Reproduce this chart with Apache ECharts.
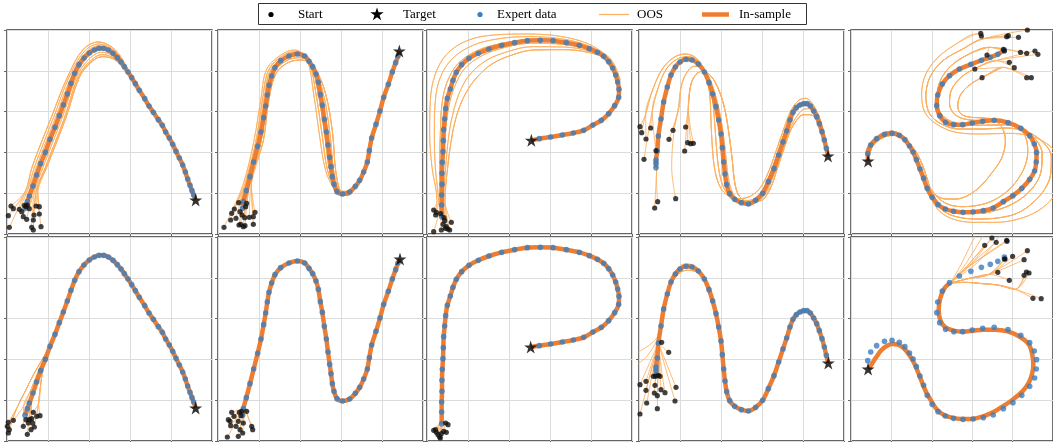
<!DOCTYPE html>
<html><head><meta charset="utf-8">
<script src="https://cdn.jsdelivr.net/npm/echarts@6/dist/echarts.min.js"></script>
<style>html,body{margin:0;padding:0;background:#fff}#c{width:1053px;height:442px}</style>
</head><body><div id="c"></div>
<script>
// Units: each panel spans x 0..615 and y 0..612 (the original has no tick labels).
// ---------- expert demonstrations (one shape per column, shared by both rows)
const expertArc = [[54,77],[61,97],[67,114],[78,144],[89,177],[101,211],[115,245],[129,284],[144,320],[157,355],[169,387],[181,420],[192,452],[203,482],[216,508],[231,528],[247,543],[262,552],[276,557],[290,557],[304,552],[318,542],[331,529],[342,516],[352,502],[363,486],[374,469],[385,451],[397,431],[413,406],[426,384],[439,365],[454,343],[466,326],[476,306],[487,288],[497,269],[507,248],[517,228],[527,207],[535,186],[542,165],[549,146],[555,130],[560,117]];
const expertN = [[74,77],[76,97],[85,130],[96,172],[107,216],[119,263],[129,306],[137,349],[143,384],[148,417],[153,446],[161,474],[171,499],[188,520],[213,534],[238,540],[260,534],[273,518],[284,502],[294,480],[301,455],[307,418],[313,386],[319,344],[325,306],[330,267],[335,230],[339,202],[343,172],[348,149],[357,127],[374,120],[395,126],[412,143],[425,161],[437,186],[448,216],[454,250],[461,288],[474,329],[486,369],[497,410],[511,449],[523,486],[533,514],[540,534]];
const expertP = [[44,52],[44,87],[44,117],[45,149],[45,182],[46,215],[48,247],[49,280],[50,313],[53,345],[56,376],[61,407],[70,435],[78,461],[88,485],[104,508],[126,527],[154,542],[186,555],[224,566],[263,574],[301,580],[340,581],[378,580],[418,574],[457,566],[487,556],[511,545],[530,533],[545,517],[557,498],[566,477],[572,456],[576,434],[575,410],[563,385],[545,361],[523,341],[498,327],[470,311],[439,303],[406,297],[371,291],[337,286]];
const expertWave = [[51,199],[51,212],[51,222],[55,249],[58,294],[66,345],[74,396],[85,441],[96,477],[109,501],[123,516],[141,524],[159,522],[178,510],[196,486],[210,454],[221,420],[231,382],[239,342],[246,300],[250,259],[254,216],[258,180],[263,148],[272,121],[287,104],[307,94],[328,90],[350,101],[371,122],[388,157],[405,196],[419,237],[432,276],[443,309],[453,342],[462,365],[472,379],[483,387],[494,391],[504,391],[514,384],[524,369],[533,352],[541,331],[549,307],[556,282],[562,257]];
const expertS = [[467,552],[447,539],[424,530],[397,521],[365,509],[330,495],[300,475],[278,450],[264,417],[261,385],[270,355],[288,335],[313,328],[340,328],[369,333],[401,338],[436,341],[478,334],[517,317],[544,295],[558,270],[565,244],[564,216],[559,189],[544,164],[520,137],[493,115],[464,97],[433,78],[403,70],[372,66],[341,65],[312,68],[287,75],[265,88],[247,110],[232,137],[221,167],[210,195],[199,223],[189,246],[178,264],[164,283],[147,296],[125,302],[102,299],[78,286],[60,267],[51,241]];

// ---------- targets
const targetsTop = [[566,102],[544,549],[313,281],[567,234],[52,219]];
const targetsBottom = [[566,99],[546,546],[311,282],[568,234],[52,216]];

// ---------- in-sample roll-out that differs from the demonstration (bottom row, column 5)
const insampleS2 = [[302,474],[285,459],[272,429],[267,394],[272,362],[287,341],[312,331],[342,328],[372,331],[402,334],[437,334],[477,329],[515,312],[542,289],[552,259],[555,229],[552,204],[542,176],[522,149],[492,124],[462,104],[432,86],[402,74],[367,66],[337,66],[307,70],[282,79],[262,94],[245,119],[229,146],[217,174],[205,204],[192,234],[177,259],[160,279],[142,289],[127,291],[110,286],[92,272],[75,249],[62,229],[52,216]];

// ---------- start points
const starts11 = [[4,55],[7,20],[12,84],[19,76],[37,74],[44,67],[49,52],[52,86],[57,82],[59,44],[61,87],[67,76],[74,20],[79,12],[79,42],[81,57],[87,84],[97,82],[97,60],[102,22]];
const starts12 = [[18,20],[38,42],[41,62],[49,75],[54,47],[62,94],[66,67],[68,29],[63,27],[72,57],[76,22],[80,49],[81,25],[83,82],[86,92],[94,50],[106,52],[111,65],[106,29]];
const starts13 = [[20,72],[26,57],[28,65],[41,61],[20,7],[43,12],[51,49],[48,29],[53,40],[55,17],[58,22],[63,15],[68,12],[73,35]];
const starts14 = [[3,322],[8,304],[21,285],[15,224],[35,318],[51,250],[90,284],[102,311],[110,106],[137,249],[140,321],[146,274],[155,271],[163,272],[56,97],[47,78]];
const starts15 = [[395,602],[397,594],[474,592],[479,595],[510,590],[537,612],[414,537],[464,554],[467,549],[516,545],[535,542],[560,549],[569,539],[482,515],[497,499],[377,495],[399,469],[535,469],[549,469]];
const starts21 = [[4,56],[1,44],[7,34],[4,24],[19,62],[49,44],[57,64],[67,64],[74,67],[77,54],[72,34],[61,20],[64,54],[79,86],[89,74],[99,76],[82,42]];
const starts22 = [[28,12],[31,64],[36,59],[41,86],[38,46],[48,74],[54,44],[61,59],[64,86],[69,76],[71,89],[76,54],[74,24],[61,14],[86,89],[101,44],[104,34],[66,34]];
const starts23 = [[20,32],[28,26],[33,19],[38,12],[43,22],[50,29],[58,26],[63,49],[56,54],[40,9],[26,34]];
const starts24 = [[3,169],[3,81],[21,179],[21,152],[23,114],[43,194],[50,194],[58,197],[63,194],[48,167],[46,144],[55,136],[66,154],[78,145],[55,97],[108,120],[111,161],[68,296],[89,266]];
const starts25 = [[429,609],[442,596],[474,602],[475,599],[407,587],[537,571],[492,554],[467,546],[469,546],[527,544],[447,506],[482,482],[527,497],[534,507],[542,504],[554,428],[579,427]];

// ---------- OOS roll-out paths (read as waypoints after each start) and which path each start follows
const tracks11 = [
 [[56,130],[75,200],[133,350],[181,470],[228,553],[274,576],[325,552],[365,490],[390,445]],
 [[61,130],[82,200],[140,350],[186,470],[232,548],[276,570],[325,548],[365,488],[390,445]],
 [[67,130],[88,200],[146,350],[192,470],[235,543],[278,565],[325,543],[365,486],[390,445]],
 [[72,130],[95,200],[153,350],[197,470],[239,537],[279,558],[325,539],[365,485],[390,445]],
 [[78,130],[101,200],[159,350],[203,470],[242,531],[281,552],[325,534],[365,483],[390,445]],
 [[83,130],[108,200],[166,350],[208,470],[246,525],[283,545],[325,530],[365,481],[390,445]],
 [[88,130],[115,200],[173,350],[213,470],[250,519],[285,538],[325,525],[365,479],[390,445]],
 [[92,130],[119,200],[177,350],[217,470],[252,515],[286,532],[325,522],[365,478],[390,445]]
];
const map11 = [0,0,0,1,1,2,2,3,3,4,4,5,5,6,6,6,7,7,7,7];
const tracks12 = [
 [[76,150],[108,280],[128,400],[146,494],[190,538],[230,552],[266,526],[287,420],[304,300],[323,190],[350,138],[380,128],[416,150],[440,190]],
 [[81,150],[114,280],[133,400],[152,492],[194,535],[234,547],[271,520],[294,420],[312,300],[329,190],[354,135],[382,126],[416,150],[440,190]],
 [[86,150],[119,280],[138,400],[157,490],[198,531],[238,542],[276,515],[301,420],[320,300],[335,190],[358,132],[384,123],[416,150],[440,190]],
 [[90,150],[125,280],[142,400],[163,487],[202,526],[242,536],[280,509],[309,420],[328,300],[341,190],[362,128],[386,121],[416,150],[440,190]],
 [[95,150],[130,280],[147,400],[168,485],[206,520],[246,529],[285,504],[316,420],[336,300],[347,190],[366,125],[388,118],[416,150],[440,190]],
 [[100,150],[136,280],[152,400],[174,482],[210,514],[250,522],[290,498],[323,420],[344,300],[353,190],[370,122],[390,116],[416,150],[440,190]]
];
const map12 = [0,0,1,1,1,2,2,2,2,3,3,3,4,4,4,5,5,5,5];
const tracks13 = [
 [[30,100],[15,200],[8,300],[10,400],[25,480],[60,540],[120,580],[200,597],[300,600],[400,593],[480,572],[540,535],[562,508],[580,462]],
 [[35,100],[25,200],[22,300],[25,400],[40,470],[75,525],[135,565],[210,585],[300,592],[400,586],[480,566],[540,532],[560,505],[578,460]],
 [[40,100],[38,200],[40,300],[45,390],[60,455],[92,510],[150,550],[225,572],[305,582],[405,578],[482,561],[540,530],[558,502],[576,458]],
 [[45,100],[48,200],[55,300],[65,380],[82,440],[112,495],[165,535],[235,560],[310,572],[408,569],[484,555],[540,528],[557,500],[575,456]],
 [[50,100],[56,200],[66,300],[80,370],[100,430],[130,480],[180,522],[245,548],[315,562],[410,561],[486,549],[540,526],[556,498],[574,455]],
 [[54,100],[62,200],[76,300],[92,365],[115,420],[148,468],[195,510],[255,537],[320,552],[412,553],[488,544],[540,524],[555,496],[573,454]]
];
const map13 = [0,0,1,1,2,2,2,3,3,4,4,5,5,5];
const tracks14 = [
 [[20,360],[40,430],[70,495],[105,530],[140,540],[175,525],[200,480],[212,420],[216,340],[220,260],[228,190],[244,140],[268,115],[300,106],[335,114],[366,142],[392,195],[415,260],[436,320],[456,370],[478,400],[500,407],[522,388],[542,342],[558,282]],
 [[40,370],[58,440],[82,495],[115,525],[150,532],[185,512],[207,465],[221,400],[228,320],[234,240],[244,170],[262,125],[292,104],[325,100],[358,115],[386,162],[410,228],[432,292],[452,345],[472,380],[492,394],[512,396],[530,375],[546,336],[558,282]],
 [[120,380],[126,440],[142,482],[166,503],[192,498],[214,462],[234,400],[250,320],[260,240],[268,170],[282,122],[310,98],[345,95],[378,118],[403,175],[426,242],[448,305],[468,345],[490,372],[510,376],[530,357],[546,326],[558,282]],
 [[148,380],[154,440],[166,472],[188,488],[212,478],[236,440],[256,380],[270,300],[280,220],[288,150],[302,112],[330,97],[365,100],[393,135],[416,200],[438,265],[458,318],[476,345],[494,358],[514,358],[533,342],[548,316],[558,282]],
 [[52,170],[56,240],[60,300],[68,360]],
 [[98,200],[104,300],[118,380],[126,440],[142,482],[166,503],[192,498]]
];
const map14 = [0,0,0,1,1,1,2,2,5,3,3,3,3,3,4,4];
const tracks15 = [
 [[380,600],[320,570],[265,530],[228,480],[215,420],[225,365],[260,330],[320,305],[400,300],[480,302],[560,290],[615,255],[640,210],[638,160],[615,110],[570,70],[510,45],[440,35],[370,35],[310,45],[270,68],[248,100],[236,135]],
 [[400,585],[340,555],[280,520],[240,470],[228,410],[240,360],[275,330],[330,315],[400,315],[470,318],[540,305],[590,270],[610,230],[608,180],[590,135],[555,95],[505,62],[445,48],[380,45],[320,52],[280,70],[255,100],[238,135]],
 [[420,560],[360,540],[305,505],[272,460],[262,410],[272,365],[300,340],[350,328],[410,326],[470,328],[525,312],[565,280],[582,240],[580,195],[565,155],[535,120],[495,92],[445,72],[390,62],[335,62],[295,72],[268,92],[250,118],[237,140]],
 [[440,520],[385,500],[335,470],[305,430],[300,390],[315,360],[345,345],[395,340],[440,338],[490,330],[520,310],[535,280],[538,245],[530,205],[512,170],[488,140],[458,115],[420,95],[380,85],[340,82],[305,86],[278,98],[258,115],[242,135]],
 [[460,500],[410,475],[365,450],[335,420],[325,385],[335,360],[365,350],[405,348],[440,340],[462,315],[470,280],[465,245],[452,215],[430,185],[410,160],[385,135],[355,115],[320,105],[290,105],[265,112],[245,128]]
];
const map15 = [0,0,1,1,1,1,2,2,2,2,2,3,3,3,3,4,4,4,4];
const humpOuter15 = [[232,137],[222,167],[211,195],[200,223],[190,246],[179,266],[164,288],[146,302],[124,308],[101,304],[78,290],[60,266],[52,219]];
const humpInner15 = [[240,135],[232,165],[222,195],[211,222],[199,245],[186,262],[170,280],[150,292],[127,296],[104,292],[82,280],[64,260],[52,219]];
const humpOf15 = [0,0,0,1,1];

const tracks21 = [
 [[30,100],[55,150],[80,200],[106,245],[129,284]],
 [[50,105],[70,150],[90,200],[110,245],[129,284]],
 [[72,110],[85,155],[98,200],[114,245],[129,284]],
 [[95,115],[100,160],[106,205],[117,248],[129,284]]
];
const map21 = [0,0,0,0,1,1,2,2,2,2,2,2,2,3,3,3,3];
const tracks22 = [[[80,100]]];
const map22 = starts22.map(() => 0);
const tracks23 = [[[44,60]]];
const map23 = starts23.map(() => 0);
const tracks24 = [
 [[58,294]],
 [[62,300],[66,360],[74,410],[86,458],[102,498],[120,522],[140,531],[160,529],[180,515],[200,488]],
 [[60,300],[68,360],[78,410],[92,455],[107,488],[124,506],[144,512],[166,510],[186,496],[205,474]]
];
const map24 = [0,0,0,0,0,1,1,0,2,0,0,0,0,2,0,0,0,2,2];
const enter24 = [[[-15,260],[20,280],[45,300],[62,320]],[[-15,225],[20,250],[45,285],[60,310]]];
const tracks25 = [
 [[340,510],[315,485],[302,474]],
 [[420,500],[360,488],[320,478],[302,474]],
 [[500,455],[447,468],[400,472],[350,476],[302,474]]
];
const map25 = [0,0,0,0,0,1,1,1,1,1,1,1,2,2,2,2,2];
const enter25 = [[[382,625],[330,520],[302,474]],[[407,625],[345,525],[305,478]],[[440,625],[365,530],[308,480]],[[460,625],[390,540],[315,484]]];

// ---------- styling
const C_EXPERT = '#3a7dbf', C_IN = '#ed7d31', C_OOS = '#fdb060', C_START = '#111111';
const STAR = 'path://M0,-10L2.23,-3.07L9.51,-3.09L3.61,1.17L5.88,8.09L0,3.8L-5.88,8.09L-3.61,1.17L-9.51,-3.09L-2.23,-3.07Z';
const FONT = '"Liberation Serif","Times New Roman",serif';

const panelLefts = [7, 218, 427, 639, 851];
const rowTops = [30, 237];
const expertShapes = [expertArc, expertN, expertP, expertWave, expertS];

const panels = [
 {starts: starts11, tracks: tracks11, map: map11},
 {starts: starts12, tracks: tracks12, map: map12},
 {starts: starts13, tracks: tracks13, map: map13},
 {starts: starts14, tracks: tracks14, map: map14},
 {starts: starts15, tracks: tracks15, map: map15, hump: [humpOuter15, humpInner15], humpOf: humpOf15},
 {starts: starts21, tracks: tracks21, map: map21},
 {starts: starts22, tracks: tracks22, map: map22},
 {starts: starts23, tracks: tracks23, map: map23},
 {starts: starts24, tracks: tracks24, map: map24, enter: enter24},
 {starts: starts25, tracks: tracks25, map: map25, enter: enter25, insample: insampleS2}
];

const grids = [], xAxes = [], yAxes = [], series = [];
panels.forEach((p, k) => {
  const row = k < 5 ? 0 : 1, col = k % 5;
  grids.push({left: panelLefts[col], top: rowTops[row], width: 205, height: 204,
    show: true, borderColor: '#333', borderWidth: 1.4, backgroundColor: 'rgba(0,0,0,0)'});
  const common = {gridIndex: k, type: 'value', axisLabel: {show: false}, axisLine: {show: false},
    axisTick: {show: true, length: 3, inside: false, lineStyle: {color: '#666', width: 1}},
    splitLine: {show: true, lineStyle: {color: '#dcdcdc', width: 1}}};
  xAxes.push(Object.assign({min: 0, max: 615, interval: 123}, common));
  yAxes.push(Object.assign({min: 0, max: 612, interval: 122.4}, common));
  const ax = {xAxisIndex: k, yAxisIndex: k};
  const oosLine = (data) => Object.assign({type: 'line', name: 'OOS', data, smooth: 0.35, symbol: 'none',
    silent: true, lineStyle: {color: C_OOS, width: 1, opacity: 0.85}, z: 2}, ax);
  p.starts.forEach((s, i) => {
    let path = [s].concat(p.tracks[p.map[i]]);
    if (p.hump) path = path.concat(p.hump[p.humpOf[p.map[i]]]);
    series.push(oosLine(path));
  });
  (p.enter || []).forEach(e => series.push(oosLine(e)));
  const expert = expertShapes[col];
  const target = (row === 0 ? targetsTop : targetsBottom)[col];
  const inData = p.insample ? p.insample : expert.concat([target]);
  series.push(Object.assign({type: 'line', name: 'In-sample', data: inData, smooth: 0.3, symbol: 'none',
    silent: true, lineStyle: {color: C_IN, width: 4.5}, z: 3}, ax));
  series.push(Object.assign({type: 'scatter', name: 'Expert data', data: expert, symbolSize: 5.6,
    itemStyle: {color: C_EXPERT}, silent: true, z: 4}, ax));
  series.push(Object.assign({type: 'scatter', name: 'Start', data: p.starts, symbolSize: 5.2,
    itemStyle: {color: C_START}, silent: true, z: 5}, ax));
  series.push(Object.assign({type: 'scatter', name: 'Target', data: [target], symbol: STAR, symbolSize: 13,
    itemStyle: {color: '#000'}, silent: true, z: 6}, ax));
});

// legend box (drawn as graphic so that the item spacing matches the original)
const ly = 14.5;
const starPts = [];
for (let i = 0; i < 10; i++) {
  const a = -Math.PI / 2 + i * Math.PI / 5, r = i % 2 === 0 ? 7 : 2.7;
  starPts.push([377 + r * Math.cos(a), ly + r * Math.sin(a)]);
}
const txt = (x, s) => ({type: 'text', x: x, y: ly + 0.5,
  style: {text: s, font: '13px ' + FONT, fill: '#000', verticalAlign: 'middle', align: 'left'}, z: 100});
const graphic = [
  {type: 'rect', shape: {x: 258.5, y: 3.5, width: 548, height: 21}, style: {fill: '#fff', stroke: '#333', lineWidth: 1}, z: 99},
  {type: 'circle', shape: {cx: 271, cy: ly, r: 2.6}, style: {fill: '#000'}, z: 100},
  txt(298, 'Start'),
  {type: 'polygon', shape: {points: starPts}, style: {fill: '#000'}, z: 100},
  txt(403, 'Target'),
  {type: 'circle', shape: {cx: 480, cy: ly, r: 2.6}, style: {fill: C_EXPERT}, z: 100},
  txt(497, 'Expert data'),
  {type: 'line', shape: {x1: 599, y1: ly, x2: 629, y2: ly}, style: {stroke: C_OOS, lineWidth: 1.2}, z: 100},
  txt(637, 'OOS'),
  {type: 'line', shape: {x1: 702, y1: ly, x2: 729, y2: ly}, style: {stroke: C_IN, lineWidth: 4.5}, z: 100},
  txt(739, 'In-sample')
];

const chart = echarts.init(document.getElementById('c'), null, {renderer: 'canvas'});
chart.setOption({animation: false, backgroundColor: '#fff', grid: grids, xAxis: xAxes, yAxis: yAxes, series, graphic});
</script>
</body></html>
